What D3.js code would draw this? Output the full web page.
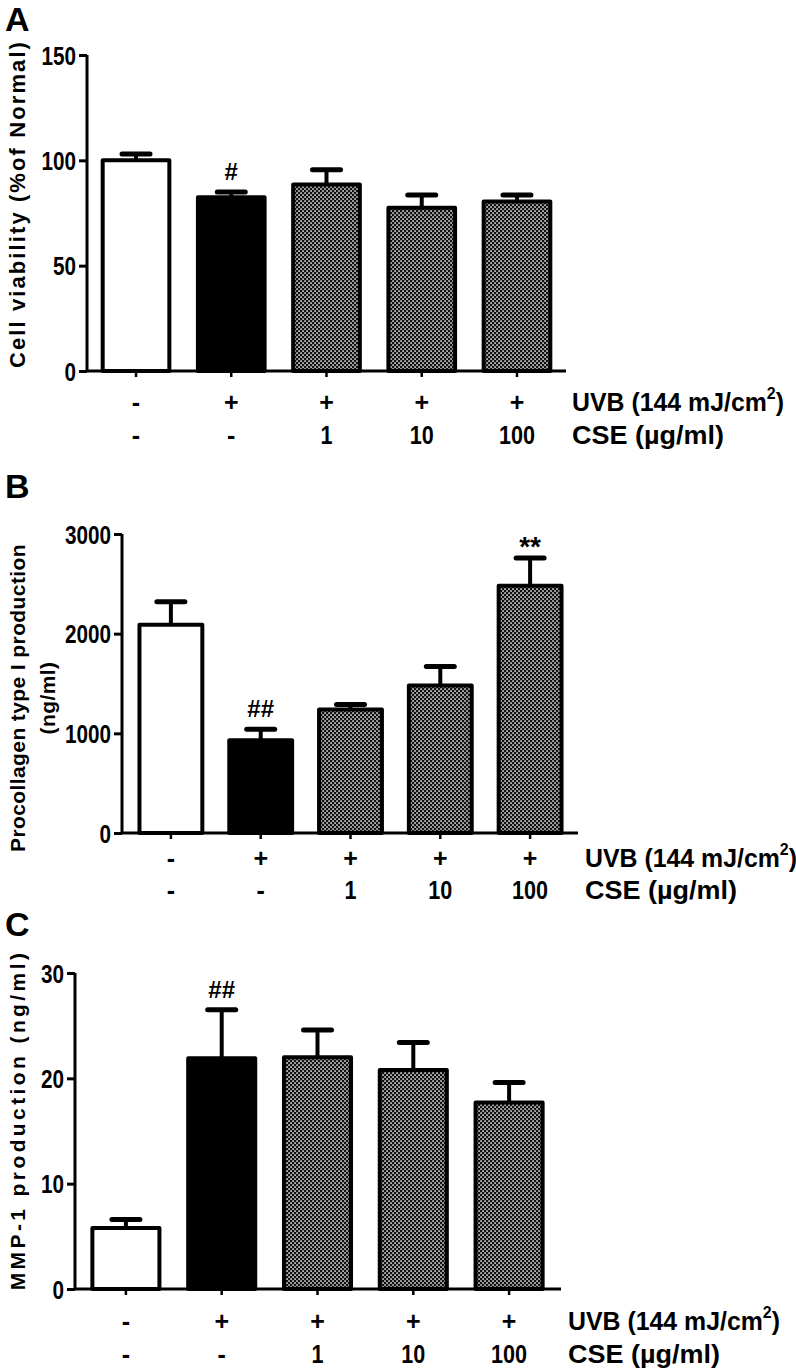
<!DOCTYPE html>
<html><head><meta charset="utf-8">
<script src="https://cdn.jsdelivr.net/npm/d3@7"></script>
<style>
html,body{margin:0;padding:0;background:#fff;}
text{font-family:"Liberation Sans",Arial,sans-serif;font-weight:bold;fill:#000;}
</style></head>
<body>
<svg id="chart" width="796" height="1371"></svg>
<script>
// ---- data ----
const groups = ["Normal", "UVB", "UVB+CSE1", "UVB+CSE10", "UVB+CSE100"];
const uvbRow = ["-", "+", "+", "+", "+"];
const cseRow = ["-", "-", "1", "10", "100"];
const fillType = ["white", "black", "pattern", "pattern", "pattern"];

const viabilityMean = [100, 82.5, 88.5, 77.5, 80.5];
const viabilitySem  = [3, 2.5, 7, 6, 3];
const viabilityTicks = [0, 50, 100, 150];
const viabilityMarks = ["", "#", "", "", ""];

const procollagenMean = [2090, 930, 1240, 1480, 2480];
const procollagenSem  = [230, 110, 50, 190, 280];
const procollagenTicks = [0, 1000, 2000, 3000];
const procollagenMarks = ["", "##", "", "", "**"];

const mmpMean = [5.8, 21.9, 22.0, 20.8, 17.7];
const mmpSem  = [0.8, 4.6, 2.6, 2.6, 1.9];
const mmpTicks = [0, 10, 20, 30];
const mmpMarks = ["", "##", "", "", ""];

// ---- drawing ----
const svg = d3.select("#chart");
const defs = svg.append("defs");
const pat = defs.append("pattern").attr("id","dots").attr("patternUnits","userSpaceOnUse")
  .attr("width",4).attr("height",4);
pat.append("rect").attr("width",4).attr("height",4).attr("fill","#111");
pat.append("rect").attr("x",0.3).attr("y",0.3).attr("width",1.5).attr("height",1.5).attr("fill","#fff");
pat.append("rect").attr("x",2.3).attr("y",2.3).attr("width",1.5).attr("height",1.5).attr("fill","#fff");

function fillOf(t){ return t==="white" ? "#fff" : t==="black" ? "#000" : "url(#dots)"; }

function panel(cfg){
  const g = svg.append("g");
  const x = d3.scaleBand().domain(groups).range(cfg.xRange).paddingInner(0.3).paddingOuter(0.15);
  const y = d3.scaleLinear().domain(cfg.yDomain).range(cfg.yRange);

  // panel letter
  g.append("text").attr("x",5).attr("y",cfg.letterY).attr("font-size",34).text(cfg.letter);

  // y label(s)
  cfg.yLabel.forEach((lab,i)=>{
    g.append("text")
      .attr("transform",`translate(${cfg.yLabelX[i]},${cfg.yLabelY}) rotate(-90)`)
      .attr("text-anchor","middle").attr("dominant-baseline","central")
      .attr("font-size",cfg.lfs).attr("letter-spacing",cfg.ls)
      .text(lab);
  });

  // bars
  g.selectAll("rect.bar").data(groups).join("rect").attr("class","bar")
    .attr("x",d=>x(d)).attr("width",x.bandwidth())
    .attr("y",(d,i)=>y(cfg.mean[i])).attr("height",(d,i)=>y(0)-y(cfg.mean[i]))
    .attr("fill",(d,i)=>fillOf(fillType[i])).attr("stroke","#000").attr("stroke-width",4)
    .attr("stroke-linejoin","round");

  // error bars
  const cx = d=>x(d)+x.bandwidth()/2;
  g.selectAll("line.err").data(groups).join("line").attr("class","err")
    .attr("x1",cx).attr("x2",cx)
    .attr("y1",(d,i)=>y(cfg.mean[i])).attr("y2",(d,i)=>y(cfg.mean[i]+cfg.sem[i]))
    .attr("stroke","#000").attr("stroke-width",4);
  g.selectAll("line.cap").data(groups).join("line").attr("class","cap")
    .attr("x1",d=>cx(d)-14).attr("x2",d=>cx(d)+14)
    .attr("y1",(d,i)=>y(cfg.mean[i]+cfg.sem[i])).attr("y2",(d,i)=>y(cfg.mean[i]+cfg.sem[i]))
    .attr("stroke","#000").attr("stroke-width",5).attr("stroke-linecap","round");

  // significance marks
  g.selectAll("text.mark").data(groups).join("text").attr("class","mark")
    .attr("x",cx).attr("y",(d,i)=>y(cfg.mean[i]+cfg.sem[i]) - (cfg.marks[i].startsWith("*")?2:12))
    .attr("text-anchor","middle")
    .attr("font-size",(d,i)=>cfg.marks[i].startsWith("*")?28:24)
    .attr("font-weight",(d,i)=>cfg.marks[i].startsWith("*")?"bold":"normal")
    .text((d,i)=>cfg.marks[i]);

  // y axis
  const ya = g.append("g").attr("transform",`translate(${cfg.axisX},0)`)
    .call(d3.axisLeft(y).tickValues(cfg.ticks).tickFormat(d3.format("d"))
      .tickSize(8).tickPadding(3).tickSizeOuter(0));
  ya.select(".domain").attr("stroke-width",3).attr("d",`M0,${y(0)}V${cfg.yRange[1]}`);
  ya.selectAll(".tick line").attr("stroke-width",3);
  ya.selectAll(".tick text").attr("font-size",25).attr("font-family","Liberation Sans, Arial, sans-serif")
    .attr("font-weight","bold").attr("fill","#000").attr("dy","0.36em")
    .attr("lengthAdjust","spacingAndGlyphs")
    .attr("textLength",function(){ return this.textContent.length*11.5; });

  // x axis
  const xa = g.append("g").attr("transform",`translate(0,${y(0)})`)
    .call(d3.axisBottom(x).tickSize(6).tickFormat("").tickSizeOuter(0));
  xa.select(".domain").attr("stroke-width",3).attr("d",`M${cfg.axisX},0H${cfg.xAxisEnd}`);
  xa.selectAll(".tick line").attr("stroke-width",2.5);

  // row labels
  [uvbRow, cseRow].forEach((row,r)=>{
    g.selectAll(`text.row${r}`).data(groups).join("text").attr("class",`row${r}`)
      .attr("x",cx).attr("y",cfg.rowY[r]).attr("text-anchor","middle")
      .attr("dominant-baseline","central").attr("font-size",25)
      .each(function(d,i){
        const s=row[i]; const t=d3.select(this).text(s);
        if(/\d/.test(s)) t.attr("lengthAdjust","spacingAndGlyphs").attr("textLength",s.length*12);
      });
  });
  const t1 = g.append("text").attr("x",cfg.rowTextX).attr("y",cfg.rowY[0])
    .attr("dominant-baseline","central").attr("font-size",25)
    .attr("textLength",212).attr("lengthAdjust","spacingAndGlyphs");
  t1.append("tspan").text("UVB (144 mJ/cm");
  t1.append("tspan").attr("baseline-shift","super").attr("font-size",16).text("2");
  t1.append("tspan").text(")");
  g.append("text").attr("x",cfg.rowTextX).attr("y",cfg.rowY[1])
    .attr("dominant-baseline","central").attr("font-size",25)
    .attr("textLength",152).attr("lengthAdjust","spacingAndGlyphs").text("CSE (\u00b5g/ml)");
}

panel({letter:"A", letterY:31, xRange:[88.4,564.6], axisX:87, xAxisEnd:566,
  yDomain:[0,150], yRange:[371,55], ticks:viabilityTicks,
  mean:viabilityMean, sem:viabilitySem, marks:viabilityMarks,
  yLabel:["Cell viability (%of Normal)"], yLabelX:[17], yLabelY:204, ls:2.1, lfs:22,
  rowY:[402,435], rowTextX:572});

panel({letter:"B", letterY:498, xRange:[126,575], axisX:122, xAxisEnd:578,
  yDomain:[0,3000], yRange:[833,534], ticks:procollagenTicks,
  mean:procollagenMean, sem:procollagenSem, marks:procollagenMarks,
  yLabel:["Procollagen type I production","(ng/ml)"], yLabelX:[17,47], yLabelY:698, ls:0.4, lfs:21,
  rowY:[858,890], rowTextX:585});

panel({letter:"C", letterY:936, xRange:[78,557], axisX:75, xAxisEnd:561,
  yDomain:[0,30], yRange:[1289,973], ticks:mmpTicks,
  mean:mmpMean, sem:mmpSem, marks:mmpMarks,
  yLabel:["MMP-1 production (ng/ml)"], yLabelX:[17], yLabelY:1120, ls:3.4, lfs:21,
  rowY:[1321,1354], rowTextX:568});
</script>
</body></html>
